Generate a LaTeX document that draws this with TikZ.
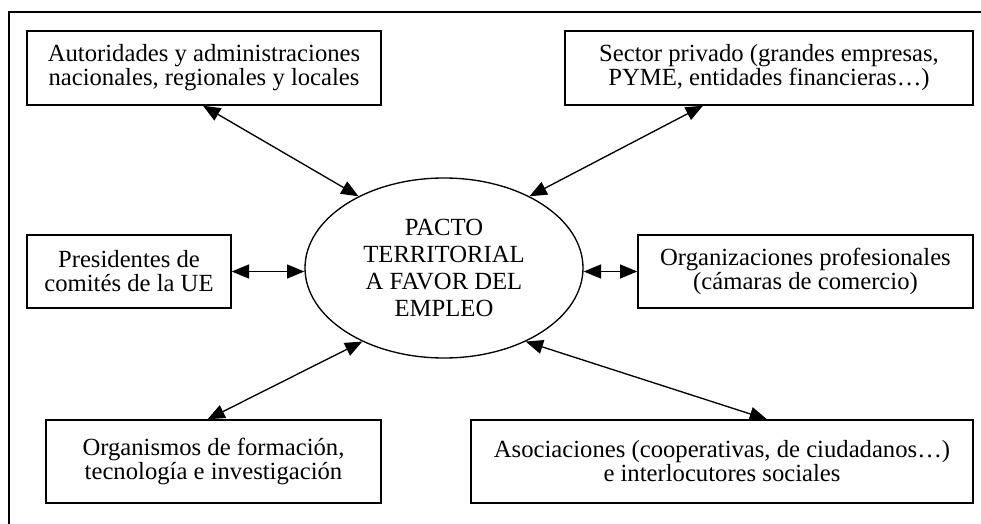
\documentclass[tikz,border=0pt]{standalone}
\usepackage{fontspec}
\setmainfont{Liberation Serif}
\usetikzlibrary{arrows.meta,shapes.geometric,calc}
\tikzset{
  boxnode/.style={draw, line width=1pt, inner sep=0pt, align=center,
    font=\fontsize{18.5}{18}\selectfont},
  conn/.style={line width=1pt, {Triangle[length=13pt,width=10.5pt]}-{Triangle[length=13pt,width=10.5pt]}},
  frameline/.style={line width=1pt}
}
\begin{document}
\begin{tikzpicture}[x=0.75pt,y=-0.75pt]
\useasboundingbox (0,0) rectangle (981,524);
\coordinate (fa) at (981,12);
\coordinate (fb) at (9,12);
\coordinate (fc) at (9,524);
\draw[frameline] (fa) -- (fb) -- (fc);

\node[boxnode, minimum width=265.5pt, minimum height=55.5pt] (b1) at (204,68)
  {Autoridades y administraciones\\nacionales, regionales y locales};
\node[boxnode, minimum width=306pt, minimum height=55.5pt] (b2) at (769,68)
  {Sector privado (grandes empresas,\\PYME, entidades financieras\dots)};
\node[boxnode, minimum width=153pt, minimum height=54.75pt] (b3) at (129,271.5)
  {Presidentes de\\comités de la UE};
\node[boxnode, minimum width=251.25pt, minimum height=54.75pt] (b4) at (805.5,271.5)
  {Organizaciones profesionales\\(cámaras de comercio)};
\node[boxnode, minimum width=251.25pt, minimum height=62.25pt] (b5) at (213.5,461.5)
  {Organismos de formación,\\tecnología e investigación};
\node[boxnode, minimum width=376.5pt, minimum height=62.25pt] (b6) at (722,461.5)
  {Asociaciones (cooperativas, de ciudadanos\dots)\\e interlocutores sociales};

\node[draw, ellipse, line width=1pt, inner sep=0pt, minimum width=208.5pt, minimum height=135pt,
  align=center, font=\fontsize{18.5}{20.25}\selectfont] (pe) at (444,268)
  {PACTO\\TERRITORIAL\\A FAVOR DEL\\EMPLEO};

\draw[conn] ($(b1.south)+(-1,0)$) -- (pe.140);
\draw[conn] ($(b2.south)+(-66,0)$) -- (pe.40);
\draw[conn] (b3.east) -- (b3.east -| pe.west);
\draw[conn] (b4.west) -- (b4.west -| pe.east);
\draw[conn] ($(b5.north)+(-6,0)$) -- (pe.-138);
\draw[conn] ($(b6.north)+(45,0)$) -- (pe.-42);
\end{tikzpicture}
\end{document}
